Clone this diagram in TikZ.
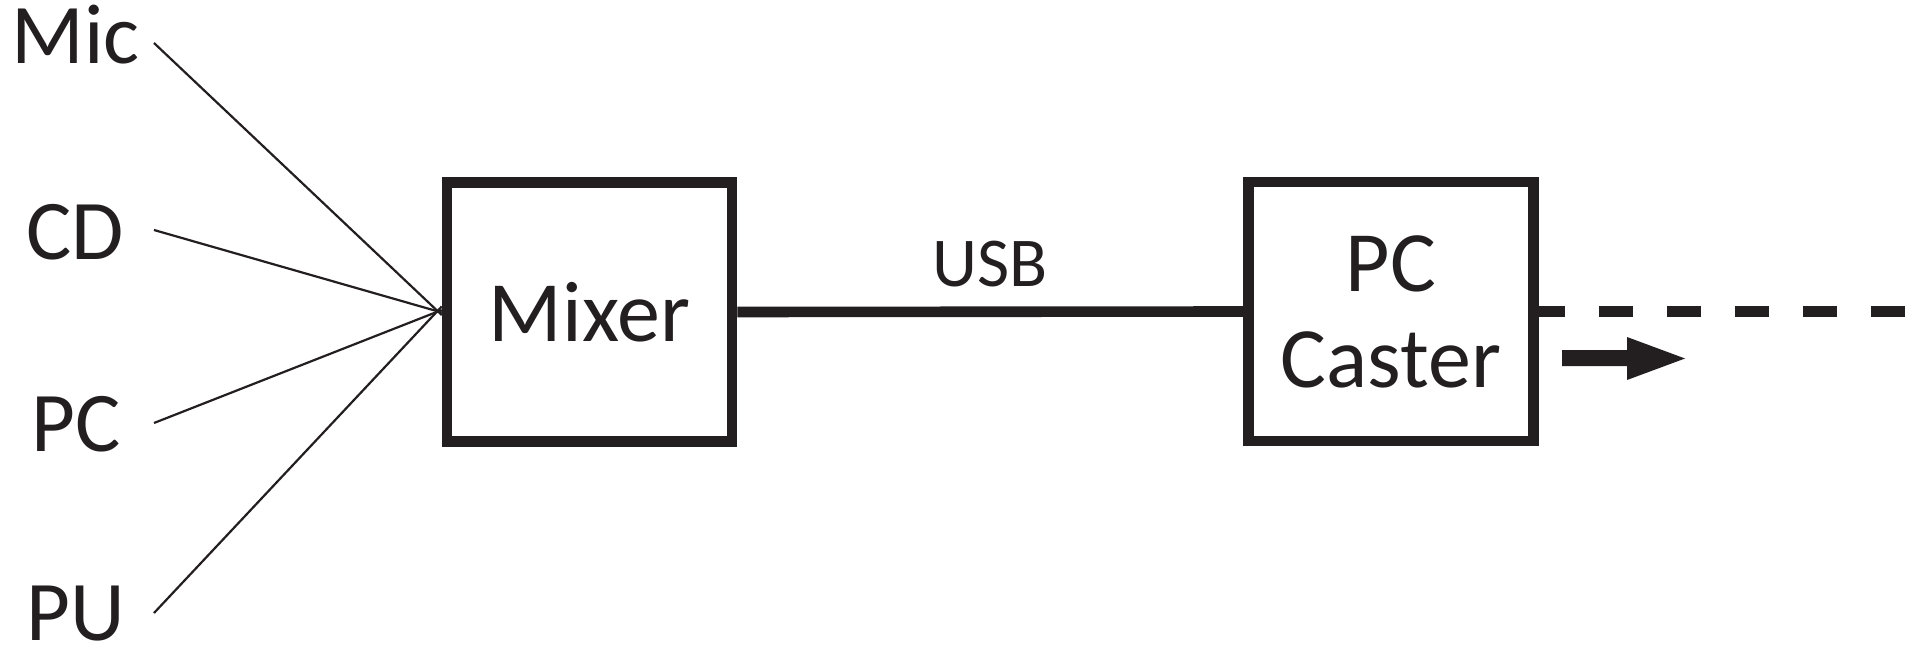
\documentclass[tikz,border=0pt]{standalone}
\usepackage{fontspec}
\setmainfont{Carlito}
\definecolor{ink}{HTML}{231F20}
\tikzset{
  lbl/.style={inner sep=0pt, anchor=base, text=ink, font=\fontsize{85}{96}\selectfont},
  smalllbl/.style={inner sep=0pt, anchor=base, text=ink, font=\fontsize{70}{80}\selectfont},
  blockbox/.style={draw=ink, line width=10.5pt, rectangle, minimum width=285pt, minimum height=258.5pt, inner sep=0pt, text=ink, align=center, font=\fontsize{86}{96}\selectfont},
  thinwire/.style={draw=ink, line width=2.2pt},
  thickwire/.style={draw=ink, line width=10.6pt},
}
\begin{document}
\begin{tikzpicture}[x=1pt,y=-1pt]
\useasboundingbox (0,0) rectangle (1910,652);
% source labels
\node[lbl] (mic) at (75.5,64) {Mic};
\node[lbl] (cd) at (75,259) {CD};
\node[lbl] (pc) at (76,451) {PC};
\node[lbl] (pu) at (75.5,640) {PU};
% wire start points
\coordinate (micR) at (154,43);
\coordinate (cdR) at (154,230);
\coordinate (pcR) at (154,423);
\coordinate (puR) at (154,613);
% blocks
\node[blockbox] (mixer) at (589.5,312) {Mixer};
\node[blockbox] (caster) at (1391,311.5) {PC\\Caster};
% wire end points on the mixer
\coordinate (in1) at ([yshift=-3pt]mixer.west);
\coordinate (in2) at ([yshift=-0.5pt]mixer.west);
\coordinate (in3) at ([yshift=2pt]mixer.west);
\coordinate (in4) at ([yshift=5.5pt]mixer.west);
\draw[thinwire] (micR) -- (in1);
\draw[thinwire] (cdR) -- (in2);
\draw[thinwire] (pcR) -- (in3);
\draw[thinwire] (puR) -- (in4);
% USB link
\draw[thickwire] (mixer.east) -- (caster.west);
\node[smalllbl] (usb) at (990,286) {USB};
% dashed output
\coordinate (outEnd) at (1910,312);
\draw[thickwire, dash pattern=on 34pt off 34pt, dash phase=8pt] (caster.east) -- (outEnd |- caster.east);
% output arrow
\coordinate (arrowTail) at (1562,358);
\fill[ink] (arrowTail) ++(0,-8) -- ++(65,0) -- ++(0,-13) -- ++(58,21.5) -- ++(-58,21.5) -- ++(0,-14) -- ++(-65,0) -- cycle;
\end{tikzpicture}
\end{document}
